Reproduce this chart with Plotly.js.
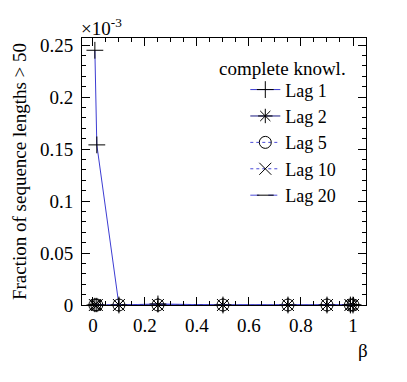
<!DOCTYPE html>
<html>
<head>
<meta charset="utf-8">
<script src="https://cdn.plot.ly/plotly-3.0.1.min.js"></script>
<style>html,body{margin:0;padding:0;background:#fff;}#chart{width:407px;height:382px;}</style>
</head>
<body>
<div id="chart"></div>
<script>
// beta values (x axis)
const beta = [0.0075, 0.015, 0.1, 0.25, 0.5, 0.75, 0.9, 0.99, 1.0];
// fraction of sequence lengths > 50, in units of 1e-3
const lag1 = [0.245, 0.154, 0, 0.001, 0, 0, 0, 0, 0];
const lag2 = [0, 0, 0, 0, 0, 0, 0, 0, 0];
const lag5 = [0, 0, 0, 0, 0, 0, 0, 0, 0];
const lag10 = [0, 0, 0, 0, 0, 0, 0, 0, 0];
const lag20 = [0, 0, 0, 0, 0, 0, 0, 0, 0];
const names = ['Lag 1', 'Lag 2', 'Lag 5', 'Lag 10', 'Lag 20'];
const series = [lag1, lag2, lag5, lag10, lag20];
const symbols = ['cross-thin-open', 'asterisk-open', 'circle-open', 'x-thin-open', 'line-ew-open'];
const dashes = ['solid', 'solid', 'dot', 'dot', 'dash'];
const lineColors = ['#3c3cd2', '#1a1a80', '#4a4ad8', '#4a4ad8', '#4a4ad8'];

const FONT = 'Liberation Serif';
const FS = 19;

const traces = series.map((vals, i) => ({
  type: 'scatter',
  mode: 'lines+markers',
  name: names[i],
  x: beta,
  y: vals,
  cliponaxis: false,
  line: {color: lineColors[i], width: 1, dash: dashes[i]},
  marker: {symbol: symbols[i], size: 12, color: '#000', line: {color: '#000', width: 1}}
}));

const layout = {
  width: 407, height: 382,
  margin: {l: 82, r: 41, t: 38, b: 77},
  paper_bgcolor: '#fff', plot_bgcolor: '#fff',
  font: {family: FONT, color: '#000', size: FS},
  showlegend: true,
  legend: {
    x: 0.575, y: 0.875, xanchor: 'left', yanchor: 'top',
    bgcolor: 'rgba(0,0,0,0)', borderwidth: 0,
    font: {family: FONT, size: 18, color: '#000'},
    itemwidth: 30, tracegroupgap: 0
  },
  xaxis: {
    range: [-0.042, 1.05],
    showgrid: false, zeroline: false,
    showline: true, linecolor: '#000', linewidth: 1, mirror: 'ticks',
    ticks: 'inside', ticklen: 8, tickcolor: '#000', tickwidth: 1,
    tick0: 0, dtick: 0.2,
    minor: {dtick: 0.05, ticks: 'inside', ticklen: 4, tickcolor: '#000', showgrid: false},
    tickfont: {family: FONT, size: FS, color: '#000'},
    ticklabelstandoff: 3
  },
  yaxis: {
    range: [0, 0.2568],
    showgrid: false, zeroline: false,
    showline: true, linecolor: '#000', linewidth: 1, mirror: 'ticks',
    ticks: 'inside', ticklen: 8, tickcolor: '#000', tickwidth: 1,
    tick0: 0, dtick: 0.05,
    minor: {dtick: 0.01, ticks: 'inside', ticklen: 4, tickcolor: '#000', showgrid: false},
    tickfont: {family: FONT, size: FS, color: '#000'},
    ticklabelstandoff: 4,
    title: {text: 'Fraction of sequence lengths > 50', font: {family: FONT, size: FS, color: '#000'}, standoff: 8}
  },
  annotations: [
    {text: '×10<sup>-3</sup>', xref: 'paper', yref: 'paper', x: 0, y: 1, xanchor: 'left', yanchor: 'bottom',
     xshift: -3, yshift: -3, showarrow: false, font: {family: FONT, size: FS, color: '#000'}},
    {text: 'β', xref: 'paper', yref: 'paper', x: 1, y: 0, xanchor: 'right', yanchor: 'top',
     xshift: 4, yshift: -33, showarrow: false, font: {family: FONT, size: FS, color: '#000'}},
    {text: 'complete knowl.', xref: 'paper', yref: 'paper', x: 0.475, y: 0.885, xanchor: 'left', yanchor: 'middle',
     showarrow: false, font: {family: FONT, size: FS, color: '#000'}}
  ]
};

Plotly.newPlot('chart', traces, layout, {displayModeBar: false, staticPlot: true});
</script>
</body>
</html>
